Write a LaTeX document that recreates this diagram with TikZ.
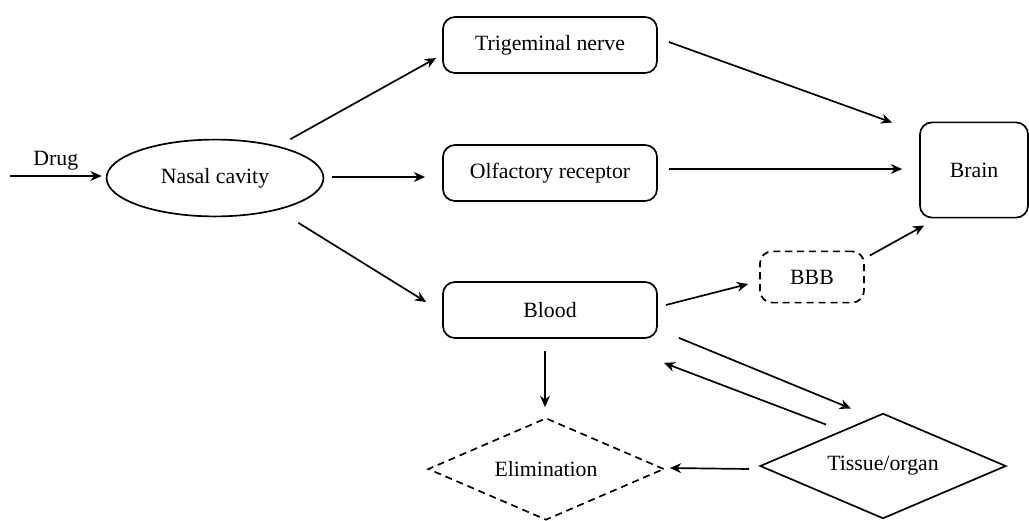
\documentclass[tikz,border=0pt]{standalone}
\usepackage{fontspec}
\setmainfont{Liberation Serif}
\usetikzlibrary{arrows.meta,shapes.geometric}
\tikzstyle{box}=[rectangle,rounded corners=0.3cm,draw=black,line width=1.2pt,
  minimum width=5.35cm,minimum height=1.4cm]
\tikzstyle{dbox}=[rectangle,rounded corners=0.3cm,draw=black,line width=1.2pt,
  dash pattern=on 5pt off 3.5pt,minimum width=2.6cm,minimum height=1.28cm]
\tikzstyle{oval}=[ellipse,draw=black,line width=1.2pt,
  minimum width=5.42cm,minimum height=1.92cm]
\tikzstyle{dmd}=[diamond,aspect=2.3,draw=black,line width=1.2pt,inner sep=0pt]
\tikzstyle{arr}=[-{Stealth[length=8pt,width=7pt]},line width=1.2pt]

\begin{document}
\begin{tikzpicture}[x=0.025cm, y=-0.025cm, font=\fontsize{15.5}{18}\selectfont]
    \useasboundingbox (0,0) rectangle (1029,520);
    \coordinate (drugin) at (10,176);
    \node [style=oval] (nasal) at (215,178) {Nasal cavity};
    \node [style=box] (trig) at (550,45) {Trigeminal nerve};
    \node [style=box] (olf) at (550,173) {Olfactory receptor};
    \node [style=box] (blood) at (550,310) {Blood};
    \node [style=box, minimum width=2.7cm, minimum height=2.38cm] (brain) at (974,170) {Brain};
    \node [style=dbox] (bbb) at (812,277) {BBB};
    \node [style=dmd, dash pattern=on 5pt off 3.5pt, minimum width=5.9cm, minimum height=2.55cm] (elim) at (546,469) {Elimination};
    \node [style=dmd, minimum width=6.15cm, minimum height=2.63cm] (tissue) at (883,466) {Tissue/organ};
    \draw [style=arr] (drugin) -- ([shift={(-4,-2)}]nasal.west) node [midway, above] (drug) {Drug};
    \draw [style=arr] ([shift={(-2,-11)}]nasal.north east) -- ([shift={(-6,13)}]trig.west);
    \draw [style=arr] ([shift={(8,-1)}]nasal.east) -- ([shift={(-17,4)}]olf.west);
    \draw [style=arr] ([shift={(6,17)}]nasal.south east) -- ([shift={(-16,-8)}]blood.west);
    \draw [style=arr] ([shift={(11,-3)}]trig.east) -- ([shift={(-27,1)}]brain.north west);
    \draw [style=arr] ([shift={(11,-4)}]olf.east) -- ([shift={(-17,-1)}]brain.west);
    \draw [style=arr] ([shift={(8,-5)}]blood.east) -- ([shift={(-11,7)}]bbb.west);
    \draw [style=arr] ([shift={(5,5)}]bbb.north east) -- ([shift={(5,7)}]brain.south west);
    \draw [style=arr] ([shift={(-5,12)}]blood.south) -- ([shift={(-1,-10)}]elim.north);
    \draw [style=arr] ([shift={(21,-1)}]blood.south east) -- ([shift={(-32,-4)}]tissue.north);
    \draw [style=arr] ([shift={(-57,12)}]tissue.north) -- ([shift={(6,24)}]blood.south east);
    \draw [style=arr] ([shift={(-10,3)}]tissue.west) -- ([shift={(5,-1)}]elim.east);
\end{tikzpicture}
\end{document}
